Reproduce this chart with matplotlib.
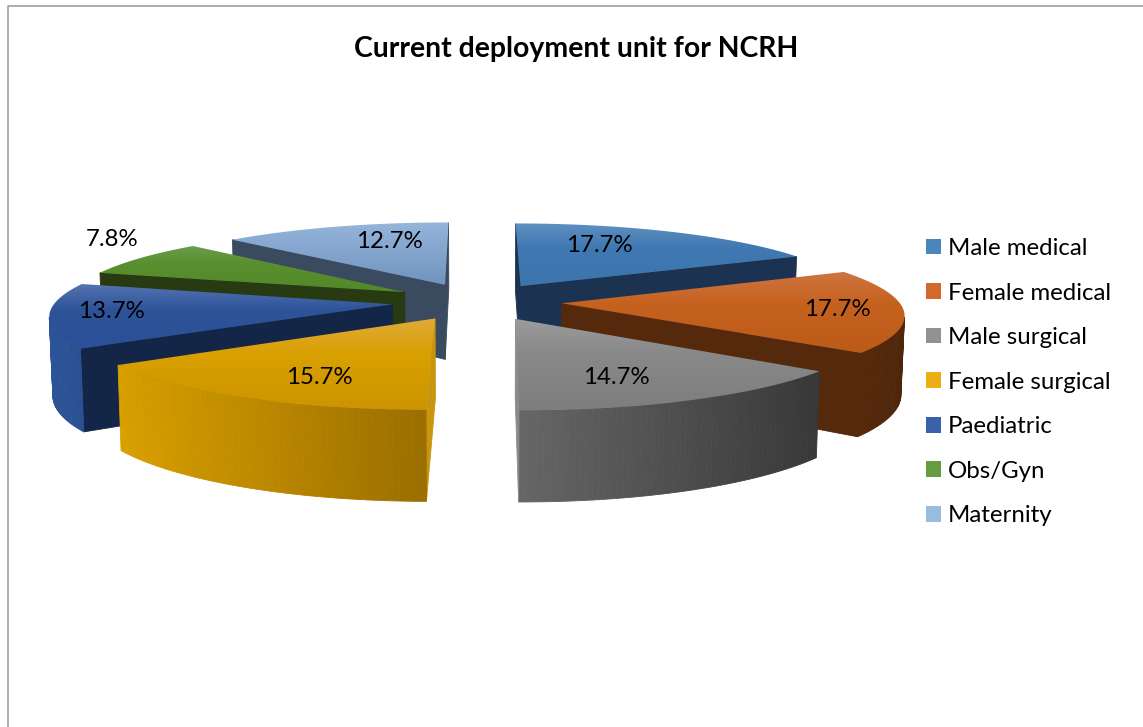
import numpy as np
import matplotlib
matplotlib.use('Agg')
import matplotlib.pyplot as plt
from matplotlib.patches import Polygon, Patch

plt.rcParams['font.family'] = ['Lato', 'DejaVu Sans']

title = 'Current deployment unit for NCRH'
categories = ['Male medical', 'Female medical', 'Male surgical', 'Female surgical',
              'Paediatric', 'Obs/Gyn', 'Maternity']
values = [17.7, 17.7, 14.7, 15.7, 13.7, 7.8, 12.7]

# top surface gradient: back colour, middle, front
top_cols = [['#5E8FC0', '#4079B2', '#3C74AC'],
            ['#CE7440', '#C6621F', '#BC5A18'],
            ['#9C9C9C', '#888888', '#7E7E7E'],
            ['#DFAA3A', '#D9A000', '#CC9400'],
            ['#5473B0', '#2D5499', '#2A5097'],
            ['#6C9E4C', '#5A8F30', '#528829'],
            ['#96B5DA', '#86A7D0', '#7094BE']]
# wall gradient, left to right on the screen
wall_cols = [['#1C3A5C', '#1C3250'],
             ['#582A0C', '#4E260A'],
             ['#666666', '#383838'],
             ['#D9A000', '#9A6E00'],
             ['#2C5498', '#2A5092'],
             ['#28391A', '#263817'],
             ['#3E5068', '#314358']]
# radial cut faces
face_cols = ['#1B3350', '#55290C', '#8A8A8A', '#C8960E', '#142648', '#273A12', '#3A4B60']
legend_cols = ['#4A86BC', '#D2692B', '#929292', '#EBAE14', '#3A62AC', '#659C42', '#9ABBE0']
label_pos = [(599, 245), (837, 309), (616, 377), (319, 377), (111, 312), (112, 239), (389, 242)]
# back to front
draw_order = [6, 0, 5, 1, 4, 2, 3]

# projection settings, in pixels
cx, cy = 477, 301.5
radius = 337
explode = 85
squash = 0.221
dist = 2580
height = 77


def project(x, y, z=0):
    s = 1 / (1 + y / dist)
    return cx + x * s * (1 - 0.00011 * z), cy - squash * y * s + z * s


def blend(c0, c1, t):
    c0 = np.array(matplotlib.colors.to_rgb(c0))
    c1 = np.array(matplotlib.colors.to_rgb(c1))
    return tuple(c0 + (c1 - c0) * t)


fig = plt.figure(figsize=(11.43, 7.27), dpi=100)
ax = fig.add_axes([0, 0, 1, 1])
ax.set_xlim(0, 1143)
ax.set_ylim(727, 0)
ax.axis('off')
ax.set_autoscale_on(False)

# frame of the original picture
ax.plot([7.5, 7.5, 1143], [727, 5.5, 5.5], color='#969696', lw=1.1, zorder=1)

ends = np.cumsum(values) / sum(values) * 2 * np.pi
starts = ends - np.array(values) / sum(values) * 2 * np.pi

z = 2
for i in draw_order:
    mid = (starts[i] + ends[i]) / 2
    ox, oy = explode * np.sin(mid), explode * np.cos(mid)
    ang = np.linspace(starts[i], ends[i], 60)
    ring_x = np.r_[ox, ox + radius * np.sin(ang)]
    ring_y = np.r_[oy, oy + radius * np.cos(ang)]
    tx, ty = project(ring_x, ring_y)
    bx, by = project(ring_x, ring_y, height)

    # walls, only the ones turned to the viewer
    n = len(tx)
    span = tx[1:].max() - tx[1:].min()
    for a in range(n):
        b = (a + 1) % n
        q = np.array([[tx[a], ty[a]], [tx[b], ty[b]], [bx[b], by[b]], [bx[a], by[a]]])
        area = np.sum(q[:, 0] * np.roll(q[:, 1], -1) - np.roll(q[:, 0], -1) * q[:, 1])
        if area >= 0:
            continue
        if a == 0 or b == 0:
            col = face_cols[i]
        else:
            col = blend(wall_cols[i][0], wall_cols[i][1], (q[:, 0].mean() - tx[1:].min()) / span)
        ax.add_patch(Polygon(q, closed=True, fc=col, ec=col, lw=0.6, zorder=z))
    z += 1

    # top surface with a vertical gradient
    top = Polygon(np.c_[tx, ty], closed=True, fc='none', ec='none', zorder=z)
    ax.add_patch(top)
    ramp = np.array([blend(top_cols[i][0], top_cols[i][1], t) for t in np.linspace(0, 1, 20)] +
                    [blend(top_cols[i][1], top_cols[i][2], t) for t in np.linspace(0, 1, 30)])
    im = ax.imshow(ramp[:, None, :], extent=(tx.min(), tx.max(), ty.max(), ty.min()),
                   aspect='auto', interpolation='bilinear', zorder=z)
    im.set_clip_path(top)
    z += 1

ax.set_xlim(0, 1143)
ax.set_ylim(727, 0)

for (lx, ly), v in zip(label_pos, values):
    ax.text(lx, ly, f'{v:.1f}%', fontsize=17.3, color='black', ha='center', va='center', zorder=50)

ax.text(576, 49, title, fontsize=20.4, fontweight='bold', color='black',
        ha='center', va='center', zorder=50)

handles = [Patch(fc=c, ec='none', label=l) for c, l in zip(legend_cols, categories)]
ax.legend(handles=handles, loc='upper left', bbox_to_anchor=(926 / 1143, 1 - 238 / 727),
          frameon=False, fontsize=17.3, handlelength=0.62, handleheight=0.62,
          handletextpad=0.3, labelspacing=0.98, borderpad=0, borderaxespad=0)

fig.savefig('out.png', dpi=100)
